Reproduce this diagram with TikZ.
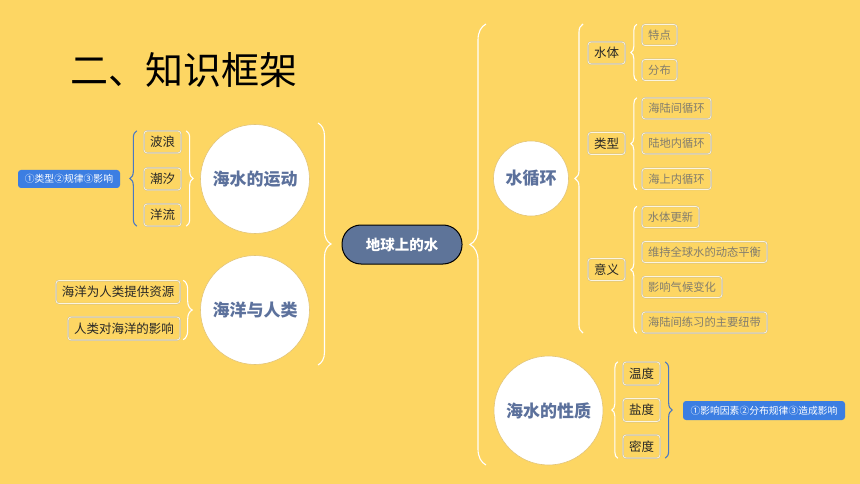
\documentclass[tikz,border=0pt]{standalone}
\usepackage{fontspec}
\setmainfont{Noto Sans CJK SC}
\usetikzlibrary{decorations.pathreplacing}
\definecolor{bg}{RGB}{253,214,99}
\definecolor{boxline}{RGB}{250,244,225}
\definecolor{boxouter}{RGB}{196,184,150}
\definecolor{circline}{RGB}{226,196,120}
\definecolor{slate}{RGB}{92,113,156}
\definecolor{centerfill}{RGB}{94,116,153}
\definecolor{tagblue}{RGB}{60,126,226}
\definecolor{bracebl}{RGB}{74,120,196}
\definecolor{graytxt}{RGB}{130,125,110}
\tikzset{
  leaf/.style={draw=boxouter, line width=0.35pt, double=boxline, double distance=0.8pt,
    rounded corners=3pt, fill=bg, inner sep=0pt,
    minimum height=22pt, text=black!85, font=\fontsize{12.5}{14}\selectfont},
  grayleaf/.style={leaf, text=graytxt, minimum height=21pt, font=\fontsize{11.3}{13}\selectfont},
  topic/.style={circle, fill=white, draw=circline, line width=0.6pt, inner sep=0pt,
    text=slate, font=\fontsize{17}{19}\selectfont\bfseries},
  tag/.style={fill=tagblue, rounded corners=3pt, inner sep=0pt, text=white,
    font=\fontsize{9.8}{11}\selectfont},
  wbrace/.style={decorate, decoration={brace, amplitude=#1}, draw=white, line width=1.1pt},
  bbrace/.style={decorate, decoration={brace, amplitude=#1}, draw=bracebl, line width=1.1pt},
}
\begin{document}
\begin{tikzpicture}[x=1pt, y=-1pt]
\fill[bg] (0,0) rectangle (860,484);
\useasboundingbox (0,0) rectangle (860,484);

% title
\node[font=\fontsize{38}{40}\selectfont, text=black] (title) at (184,70) {二、知识框架};

% left part
\node[tag, minimum width=102pt, minimum height=18pt] (tagA) at (69,179) {①类型②规律③影响};
\node[leaf, minimum width=37pt] (bl) at (162.5,142) {波浪};
\node[leaf, minimum width=37pt] (cx) at (162.5,179) {潮汐};
\node[leaf, minimum width=37pt] (yl) at (162.5,215) {洋流};
\node[topic, minimum size=109pt] (yd) at (255,179) {海水的运动};
\node[topic, minimum size=109pt] (hr) at (255,310) {海洋与人类};
\node[leaf, minimum width=124pt, minimum height=23pt] (zy) at (118,292) {海洋为人类提供资源};
\node[leaf, minimum width=112pt, minimum height=23pt] (yx) at (124,328.5) {人类对海洋的影响};

\draw[bbrace=7pt] ([xshift=-7pt]yl.south west) -- ([xshift=-7pt]bl.north west);
\draw[wbrace=7pt] ([xshift=5pt]bl.north east) -- ([xshift=5pt]yl.south east);
\draw[wbrace=9pt] ([xshift=3pt]zy.north east) -- ([xshift=3pt,yshift=0.5pt]yx.south east);

% center
\node[fill=centerfill, draw=black, line width=1pt, rounded corners=19pt, minimum width=120pt,
  minimum height=39pt, inner sep=0pt, text=white, font=\fontsize{14.5}{16}\selectfont\bfseries]
  (earth) at (402,244.5) {地球上的水};
\coordinate (lbTop) at (318,123);
\coordinate (lbBot) at (318,365);
\draw[wbrace=13pt] (lbTop) -- (lbBot);
\coordinate (rbTop) at (486,24);
\coordinate (rbBot) at (486,465);
\draw[wbrace=16pt] (rbBot) -- (rbTop);

% water cycle
\node[topic, minimum size=75pt] (sxh) at (531,178.5) {水循环};
\node[topic, minimum size=109pt] (xz) at (548.5,410.5) {海水的性质};
\coordinate (cyTop) at (583,24);
\coordinate (cyBot) at (583,333);
\draw[wbrace=8pt] (cyBot) -- (cyTop);

\node[leaf, minimum width=37pt] (st) at (606.5,53) {水体};
\node[leaf, minimum width=37pt] (lx) at (606.5,143.5) {类型};
\node[leaf, minimum width=37pt] (yy) at (606.5,269.5) {意义};

\node[grayleaf, minimum width=35pt] (td) at (659.5,35) {特点};
\node[grayleaf, minimum width=35pt] (fb) at (659.5,70) {分布};
\node[grayleaf, minimum width=69pt] (h1) at (676.5,108.5) {海陆间循环};
\node[grayleaf, minimum width=69pt] (h2) at (676.5,143.5) {陆地内循环};
\node[grayleaf, minimum width=69pt] (h3) at (676.5,179) {海上内循环};
\node[grayleaf, minimum width=57pt] (y1) at (670.5,217) {水体更新};
\node[grayleaf, minimum width=125pt] (y2) at (704.5,252) {维持全球水的动态平衡};
\node[grayleaf, minimum width=80pt] (y3) at (682,287) {影响气候变化};
\node[grayleaf, minimum width=125pt] (y4) at (704.5,322.5) {海陆间练习的主要纽带};

\draw[wbrace=6pt] ([xshift=-5pt]fb.south west) -- ([xshift=-5pt]td.north west);
\draw[wbrace=6pt] ([xshift=-5pt]h3.south west) -- ([xshift=-5pt]h1.north west);
\draw[wbrace=6pt] ([xshift=-5pt]y4.south west) -- ([xshift=-5pt]y1.north west);

% properties
\node[leaf, minimum width=37pt, minimum height=23pt] (wd) at (641.5,373.5) {温度};
\node[leaf, minimum width=37pt, minimum height=23pt] (yd2) at (641.5,410) {盐度};
\node[leaf, minimum width=37pt, minimum height=23pt] (md) at (641.5,446.5) {密度};
\draw[wbrace=6pt] ([xshift=-5pt]md.south west) -- ([xshift=-5pt]wd.north west);
\draw[bbrace=7pt] ([xshift=5pt]wd.north east) -- ([xshift=5pt]md.south east);
\node[tag, minimum width=162pt, minimum height=19pt] (tagB) at (764,410.5) {①影响因素②分布规律③造成影响};
\end{tikzpicture}
\end{document}
